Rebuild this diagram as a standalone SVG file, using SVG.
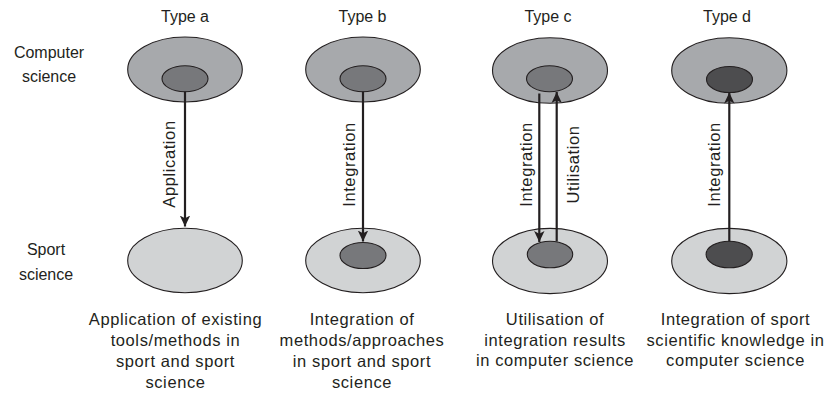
<svg xmlns="http://www.w3.org/2000/svg" width="828" height="393" viewBox="0 0 828 393">
<style>
text{font-family:"Liberation Sans",Arial,sans-serif;fill:#231f20;}
.hd{font-size:16px;text-anchor:middle;}
.ds{font-size:16.5px;letter-spacing:0.6px;text-anchor:middle;}
.lb{font-size:16.5px;letter-spacing:0.6px;text-anchor:middle;}
.e{stroke:#231f20;stroke-width:1.1;}
.cs{fill:#a7a9ac;}
.ss{fill:#d1d3d4;}
.in{fill:#77787b;}
.dk{fill:#4d4d4f;}
.ln{stroke:#231f20;stroke-width:2.2;fill:none;marker-end:url(#ah);}
</style>
<defs>
<marker id="ah" markerUnits="userSpaceOnUse" markerWidth="12" markerHeight="12" refX="11" refY="6" orient="auto">
<path d="M0,0.8 L11,6 L0,11.2 L2.8,6 Z" fill="#231f20"/>
</marker>
</defs>
<rect width="828" height="393" fill="#fff"/>

<g id="row-labels">
<text class="hd" x="49" y="58">Computer</text>
<text class="hd" x="49" y="82">science</text>
<text class="hd" x="46" y="255">Sport</text>
<text class="hd" x="46" y="280">science</text>
</g>

<g id="type-a">
<text class="hd" x="185" y="22">Type a</text>
<ellipse class="e cs" cx="185" cy="69.5" rx="57.3" ry="32.5"/>
<ellipse class="e in" cx="185" cy="78.7" rx="23" ry="13"/>
<ellipse class="e ss" cx="185" cy="260.5" rx="57.3" ry="32.2"/>
<text class="ds" x="175.5" y="325">Application of existing</text>
<text class="ds" x="175.5" y="346">tools/methods in</text>
<text class="ds" x="175.5" y="367">sport and sport</text>
<text class="ds" x="175.5" y="388">science</text>
</g>

<g id="type-b">
<text class="hd" x="362.5" y="22">Type b</text>
<ellipse class="e cs" cx="363" cy="69.5" rx="57.3" ry="32.5"/>
<ellipse class="e in" cx="363" cy="78.7" rx="23" ry="13"/>
<ellipse class="e ss" cx="363" cy="260.5" rx="57.3" ry="32.2"/>
<ellipse class="e in" cx="363" cy="255.5" rx="23" ry="13"/>
<text class="ds" x="362" y="325">Integration of</text>
<text class="ds" x="362" y="346">methods/approaches</text>
<text class="ds" x="362" y="367">in sport and sport</text>
<text class="ds" x="362" y="388">science</text>
</g>

<g id="type-c">
<text class="hd" x="548" y="22">Type c</text>
<ellipse class="e cs" cx="550" cy="70.5" rx="57.5" ry="32.8"/>
<ellipse class="e in" cx="549.5" cy="78.7" rx="23" ry="13"/>
<ellipse class="e ss" cx="550" cy="261" rx="57.5" ry="32.6"/>
<ellipse class="e in" cx="550" cy="254.5" rx="22.7" ry="13.3"/>
<text class="ds" x="555" y="325">Utilisation of</text>
<text class="ds" x="555" y="345.5">integration results</text>
<text class="ds" x="555" y="366">in computer science</text>
</g>

<g id="type-d">
<text class="hd" x="727" y="22">Type d</text>
<ellipse class="e cs" cx="729.3" cy="70.5" rx="57.6" ry="32.8"/>
<ellipse class="e dk" cx="729.5" cy="79.5" rx="23" ry="13"/>
<ellipse class="e ss" cx="729.3" cy="261" rx="57.6" ry="32.6"/>
<ellipse class="e dk" cx="729.2" cy="254.5" rx="23.1" ry="13.3"/>
<text class="ds" x="735.5" y="325">Integration of sport</text>
<text class="ds" x="735.5" y="345.5">scientific knowledge in</text>
<text class="ds" x="735.5" y="366">computer science</text>
</g>

<g id="connectors">
<line class="ln" x1="185" y1="91.5" x2="185" y2="226.5"/>
<line class="ln" x1="363" y1="91.5" x2="363" y2="241.5"/>
<line class="ln" x1="539.3" y1="93.5" x2="539.3" y2="242"/>
<line class="ln" x1="556.7" y1="241.5" x2="556.7" y2="92"/>
<line class="ln" x1="729.3" y1="241.5" x2="729.3" y2="92.5"/>
<text class="lb" transform="translate(175,164) rotate(-90)">Application</text>
<text class="lb" transform="translate(355,164.5) rotate(-90)">Integration</text>
<text class="lb" transform="translate(531.5,164.5) rotate(-90)">Integration</text>
<text class="lb" transform="translate(579,164.5) rotate(-90)">Utilisation</text>
<text class="lb" transform="translate(720,164.5) rotate(-90)">Integration</text>
</g>
</svg>
